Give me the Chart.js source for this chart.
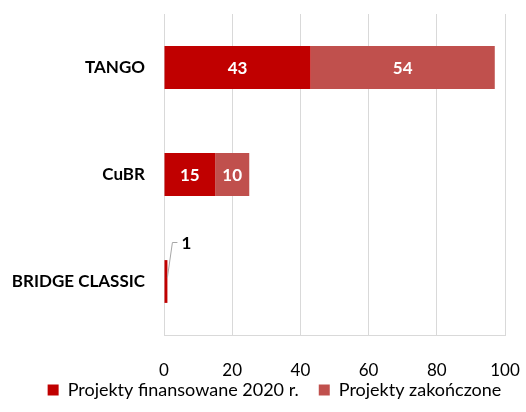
<!DOCTYPE html>
<html>
<head>
  <meta charset="UTF-8">
  <title>Projekty</title>
  <script src="https://cdn.jsdelivr.net/npm/chart.js"></script>
  <style>
    html, body {
      margin: 0;
      padding: 0;
      background: #fff;
    }
    #wrap {
      width: 526px;
      height: 412px;
    }
  </style>
</head>
<body>

  <div id="wrap"><canvas id="myChart"></canvas></div>

  <script>
    const categories = ['TANGO', 'CuBR', 'BRIDGE CLASSIC'];
    const funded2020 = [43, 15, 1];
    const completed = [54, 10, 0];
    const seriesNames = ['Projekty finansowane 2020 r.', 'Projekty zakończone'];
    const xMax = 100;
    const xStep = 20;

    const colors = ['#C00000', '#C0504D'];

    // value labels: white inside the bar, callout with a leader line when the bar is too thin
    const barLabels = {
      id: 'barLabels',
      afterDatasetsDraw(chart) {
        const ctx = chart.ctx;
        ctx.save();
        ctx.font = 'bold 17px Lato';
        chart.data.datasets.forEach((ds, i) => {
          chart.getDatasetMeta(i).data.forEach((bar, j) => {
            const v = ds.data[j];
            if (!v) return;
            const w = Math.abs(bar.x - bar.base);
            if (w > 20) {
              ctx.fillStyle = '#fff';
              ctx.textAlign = 'center';
              ctx.textBaseline = 'middle';
              ctx.fillText(v, (bar.x + bar.base) / 2, bar.y + 1);
            } else {
              const ly = bar.y - 39;
              ctx.strokeStyle = '#a6a6a6';
              ctx.lineWidth = 1;
              ctx.beginPath();
              ctx.moveTo(bar.x, bar.y - 4);
              ctx.lineTo(bar.x + 5, ly);
              ctx.lineTo(bar.x + 10, ly);
              ctx.stroke();
              ctx.fillStyle = '#000';
              ctx.textAlign = 'left';
              ctx.textBaseline = 'middle';
              ctx.fillText(v, bar.x + 14, ly + 1);
            }
          });
        });
        ctx.restore();
      }
    };

    // legend: keep its box short so the x ticks have room, then move it into place
    const legendTweak = {
      id: 'legendTweak',
      beforeLayout(chart) {
        const lg = chart.legend;
        if (lg && !lg._short) {
          const fit = lg.fit;
          lg.fit = function () { fit.call(this); this.height = 36; };
          lg._short = true;
        }
      },
      afterLayout(chart) {
        const lg = chart.legend;
        lg.left += 22;
        lg.right += 22;
        lg.top = 361;
        lg.bottom = 361 + 48;
      }
    };

    new Chart(document.getElementById('myChart'), {
      type: 'bar',
      data: {
        labels: categories,
        datasets: [
          {
            label: seriesNames[0],
            data: funded2020,
            backgroundColor: colors[0],
            barPercentage: 0.4,
            categoryPercentage: 1
          },
          {
            label: seriesNames[1],
            data: completed,
            backgroundColor: colors[1],
            barPercentage: 0.4,
            categoryPercentage: 1
          }
        ]
      },
      options: {
        indexAxis: 'y',
        responsive: true,
        maintainAspectRatio: false,
        animation: false,
        layout: {
          padding: { top: 14, right: 21, left: 0, bottom: 0 }
        },
        scales: {
          x: {
            stacked: true,
            min: 0,
            max: xMax,
            ticks: {
              stepSize: xStep,
              color: '#000',
              padding: 25,
              font: { family: 'Lato', size: 17 }
            },
            grid: {
              color: '#d9d9d9',
              drawTicks: false
            },
            border: { color: '#d9d9d9' },
            afterFit(scale) {
              scale.height = 41;
              scale.paddingLeft = 0;
              scale.paddingRight = 0;
            }
          },
          y: {
            stacked: true,
            ticks: {
              color: '#000',
              padding: 19,
              font: { family: 'Lato', size: 17, weight: 'bold' }
            },
            grid: { display: false, drawTicks: false },
            border: { display: false },
            afterFit(scale) {
              scale.width = 164;
              scale.paddingTop = 0;
              scale.paddingBottom = 0;
            }
          }
        },
        plugins: {
          legend: {
            position: 'bottom',
            labels: {
              boxWidth: 11,
              boxHeight: 11,
              padding: 20,
              color: '#000',
              font: { family: 'Lato', size: 18 }
            }
          },
          tooltip: { enabled: false }
        }
      },
      plugins: [barLabels, legendTweak]
    });
  </script>

</body>
</html>
